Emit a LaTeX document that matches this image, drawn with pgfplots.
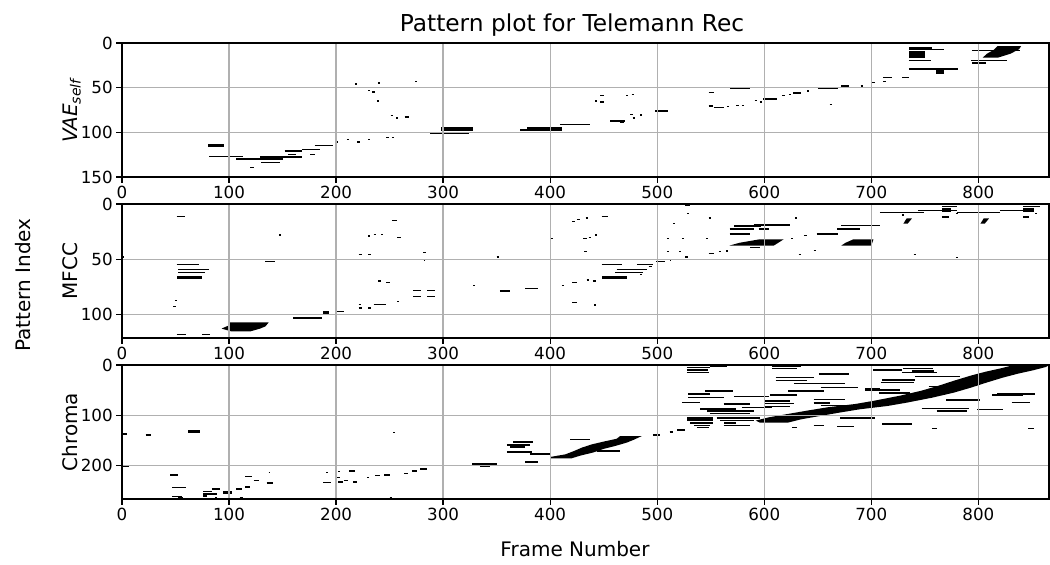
\documentclass[border=0pt]{standalone}
\usepackage{fontspec}
\setmainfont{DejaVu Sans}
\usepackage{pgfplots}
\pgfplotsset{compat=1.18}
\definecolor{gridgray}{HTML}{B0B0B0}
\pgfplotsset{
  seg/.style={quiver={u=\thisrow{l}, v=0}, black, line width=1.33pt},
  blob/.style={fill=black, draw=none},
  panel/.style={
    scale only axis, width=927pt, height=134pt,
    xmin=0, xmax=866, y dir=reverse,
    xtick={0,100,...,800},
    grid=major,
    major grid style={draw=gridgray, line width=1.33pt},
    axis line style={line width=1.33pt},
    tick style={black, line width=1.33pt},
    major tick length=5.8pt,
    tick align=outside, tick pos=left,
    tick label style={font=\fontsize{16.7}{20}\selectfont},
    /pgf/number format/assume math mode=true,
    axis on top,
    label style={font=\fontsize{20}{24}\selectfont},
    ylabel style={at={(axis description cs:-0.0485,0.5)}, anchor=base},
  }
}
\begin{document}
\begin{tikzpicture}
\useasboundingbox (0pt,0pt) rectangle (1050pt,565pt);
\node[font=\fontsize{23.3}{28}\selectfont, anchor=base] at (572pt,533pt) {Pattern plot for Telemann Rec};
\node[font=\fontsize{20}{24}\selectfont, rotate=90, anchor=base] at (30.5pt,280pt) {Pattern Index};
\node[font=\fontsize{20}{24}\selectfont, anchor=base] at (575pt,8pt) {Frame Number};

% ---------------- Panel 1 ----------------
\begin{axis}[panel, at={(122pt,388pt)}, anchor=south west,
  ymin=0, ymax=150, ytick={0,50,100,150},
  ylabel={\textit{VAE}\textsubscript{\textit{self}}}]
\addplot[seg] table {
x y l
81.6 127 31.4
106.5 130 43.5
129 127.5 22
130 134 18
120 139 3
152 121 16
151 127.5 17
155 124.5 8
168 119 17
176 125 4
180 115 17
200 111 2
210 108 2
220 111 2
230 108 2
247 106 2
252 106 2
218 46 2
230 53 2
234 55 2
239 44.6 2
238 65 2
251 81 2
256 84 2
264 83 4.5
274 43 2
288 101.6 36
331 100.5 10
372 97.5 8
409 91 28
456 87.3 14
465 89 3.5
442 65 2
447 66 3
447 59 3
471 59 2
476 58 2
475 80 2
477 84 2
484 80.6 2
498 76 12
548 55.5 5
568 51 19
548 70.5 4
553 72 9
565 71 2
574 70 2
579 70 2
591 64.5 2
596 66 2
599 62.6 13
617 59 2
623 58 2
627 56 7
640 53.6 2
650 51 19
661 68.6 2
672 48 7
683 49.5 7
690 48 2
701 44 2
711 38.6 8
711 43 3
729 38.6 6
735 5.6 22
735 7.5 33
735 19.5 21
735 29.2 46
794 8.2 45
793 19.5 34
794 22.5 13
};
\addplot[blob] coordinates {(80,113.5) (95,113.5) (95,116.5) (80,116.5)};
\addplot[blob] coordinates {(298,93.5) (328,93.5) (328,98) (298,98)};
\addplot[blob] coordinates {(378,94.5) (411,94.5) (411,98) (378,98)};
\addplot[blob] coordinates {(760,30) (768,30) (768,34.5) (760,34.5)};
\addplot[blob] coordinates {(735,9.4) (750,9.4) (750,17) (735,17)};
\addplot[blob] coordinates {(818,3.5) (840,3.5) (838,7) (830,12) (818,16.5) (804,16.5) (808,12) (814,8)};
\end{axis}

% ---------------- Panel 2 ----------------
\begin{axis}[panel, at={(122pt,227pt)}, anchor=south west,
  ymin=0, ymax=121, ytick={0,50,100},
  ylabel={MFCC}]
\addplot[seg] table {
x y l
51 11 8
0 48 2
51 54.5 21
52.6 59 28.4
52.6 61.7 25
49.5 87.4 2
48 92.5 2
51 118 9
75 118 7
133.6 52 9.4
147 28 2
160 103 26.6
200.6 97 6.4
221 94 3
230 94 3
235 91 12
257 88 2
221 91 2
239.6 69.5 2
247 70.6 3
272 78.4 7
285 78.4 7.5
272 83.5 7
285 83.5 7.5
230 29 2
235 27.5 2
242 27.5 2
221 45.5 3
230 45.5 3
252 14.7 5
257 30 4
281.6 44 2
282 51 1.5
328 73.4 2
350 48 2
353 78.7 9
376.6 76.3 12.4
400.6 31 2.5
411 73.4 2
420.6 71 4.4
420.6 89 4.4
434 68.6 2
440 69.5 3
441 91.3 2
432 43 2
431 31 3
436 30.5 2
442 28 2
420.6 16 2.4
425 14 3
433 12.6 2
448 11.4 6
448 54.8 19
481 54.8 15
462 59.3 28
461 61.7 26
484 63.5 2
492 56.6 3
499 51.8 8.5
511.5 50.6 1.5
509 31.4 2
515 17.4 2
509 43 2
520.6 43 2
523 31 2
526 48 3
528 8.7 2
526 1.2 5
545.5 31 2
548 12.6 2
548 45 5
557.5 43 2
564.5 42.5 2
571.5 20 25
590 18.9 34
567.6 22.5 22.4
594.7 22.5 9.3
567.6 27 19.4
587 39.2 9
625 31 2
629 12.6 2
632 45.5 2
637 28.5 3
646 42 2
649 27 20
668 22.5 21.6
672 19.2 35
690 19.2 18
708 7.5 41
744 5.7 36
766 2.1 14
766 11.7 7
779 8.7 2
728.6 10 2
780 7.5 40
820 5.7 28
842 2 16
842 11.7 5
853 8.7 2
739.6 45.5 2
779 48.5 2
};
\addplot[blob] coordinates {(51,65) (74.5,65) (74.5,67.5) (51,67.5)};
\addplot[blob] coordinates {(101,107) (137,107) (134,110.5) (129,112.5) (120,115) (102,115) (93,112.5) (99,110)};
\addplot[blob] coordinates {(188,97) (193,97) (193,99.5) (188,99.5)};
\addplot[blob] coordinates {(448,65) (471.6,65) (471.6,67.5) (448,67.5)};
\addplot[blob] coordinates {(595,32) (618,32) (609,37.5) (567.6,37.5) (577,35)};
\addplot[blob] coordinates {(683,32) (702,32) (700,37.5) (672,37.5) (676,35)};
\addplot[blob] coordinates {(766,4) (774,4) (774,7.2) (766,7.2)};
\addplot[blob] coordinates {(842,4) (852,4) (852,7.2) (842,7.2)};
\addplot[blob] coordinates {(733,13) (738,13) (734,17.7) (730,17.7)};
\addplot[blob] coordinates {(805,13) (810,13) (806,17.7) (802,17.7)};
\end{axis}

% ---------------- Panel 3 ----------------
\begin{axis}[panel, at={(122pt,66pt)}, anchor=south west,
  ymin=0, ymax=266, ytick={0,100,200},
  ylabel={Chroma}]
\addplot[seg, line width=1.6pt] table {
x y l
0.6 137 4
22 139.5 5
0.6 201.7 5.5
45 218 7.6
47 243 13
47 261 9
52.6 264 4
76 251 8
76 256.6 12.5
76 260 3
84 246 7.6
87 263 2
106.5 246.7 5.5
110 263 3
115 242.7 4.6
115 221 6
123 229.5 5
135 234.8 6
137 213 1.5
188 233.5 7
190.6 213 1.5
202 211.6 1.5
200.6 223.5 3
202 232 4
207 229.5 4.5
212.5 210 5.3
216 232 4
228.7 223.5 2
236.4 219.6 4.6
245 218 5.5
250 263 2
253.6 133.6 1.5
263.5 215.6 3.5
270.7 210 4.7
278.5 207 6.2
327 196.4 23.6
334.5 201.7 9.5
365.7 153 18
359.5 158.7 21.5
362.5 163 14
359.5 172 23.5
376.6 192.5 12.4
381 176.6 19
418.6 148 18.4
443.5 170.6 21.3
496 139 6.7
511.6 133 3.4
518.6 129 7.4
527.6 5.3 22
527.6 10 20
527.6 14.5 20.4
549.5 2 15.5
529 58 20.5
545 51.6 26
529 64.8 33
523 74.7 17
571.5 62.8 32.5
562 78 25
579 84 28
546.5 91 43.5
549.5 96 37.5
541.6 100.5 64
555.6 105.8 40.4
558.8 110.4 31.2
530.7 115.7 21.8
562 120.4 25
537 124.3 11
607.6 2 26.4
607.6 6.6 23
610.7 24.5 35.3
610.7 31 29.3
651 17.9 28
627.6 37 35.6
646 36.4 29.7
652.6 45 35.4
622.6 51.6 33
605 59.5 25.5
600.5 71.4 23.5
600.5 76.7 27
600.5 82.7 23.5
646 68.8 29.7
646 76 15.6
652.6 80.7 24.7
626 124.3 4.5
646 119.7 9.5
668 121.7 15.6
671 105.8 31
663 0.5 28
694.5 48 14
702 10 27
730 6.6 28
738 12 21
729 15 32
710 30 31
709 35 31
741 23 42
694 49.6 33
707 55 29.5
753.6 43 29.4
770 69.4 32
747 86 44
761 91 28.4
799 88 24
813 59.5 29
817.5 57.5 35.5
831 74.7 17
783 28.4 25
690 105.8 13.7
710 117 28
756.6 125.7 4.4
846.6 125.7 5.4
};
\addplot[blob] coordinates {(62,129) (73,129) (73,134) (62,134)};
\addplot[blob] coordinates {(94.7,250) (102.5,250) (102.5,257) (94.7,257)};
\addplot[blob] coordinates {(359.5,157) (381,157) (381,161) (359.5,161)};
\addplot[blob] coordinates {(359.5,170) (383,170) (383,174) (359.5,174)};
\addplot[blob] coordinates {(400,185.5) (400,182.5) (414,177.5) (422,171) (429.6,164) (439,157.5) (450,152) (462,146.5) (465.4,141) (485.6,141) (478,148.5) (471.6,154) (462,160) (450,166.5) (440.5,173.5) (428,180) (419.6,185.5)};
\addplot[blob] coordinates {(540,85.5) (574,85.5) (574,89) (540,89)};
\addplot[blob] coordinates {(527.6,104) (552.5,104) (552.5,112) (527.6,112)};
\addplot[blob] coordinates {(562,114) (574,114) (574,117.5) (562,117.5)};
\addplot[blob] coordinates {(534,119) (549.5,119) (549.5,122) (534,122)};
\addplot[blob] coordinates {(592,110.4) (604.5,103.8) (622,97.2) (640,90.6) (659,84) (685,77.4) (703,70.8) (727,60.8) (747,50.9) (763,41) (777.5,31) (793,21) (807,13.2) (821,6.6) (833,0.3) (866,0.3) (863,4) (851,10.6) (837,17.2) (823,25) (807.5,35) (793,45) (777,54.9) (757,64.8) (733,74.8) (715,81.4) (689,88) (670,94.6) (652,101.2) (634.5,107.8) (622,114.4) (596,114.4)};
\end{axis}
\end{tikzpicture}
\end{document}
